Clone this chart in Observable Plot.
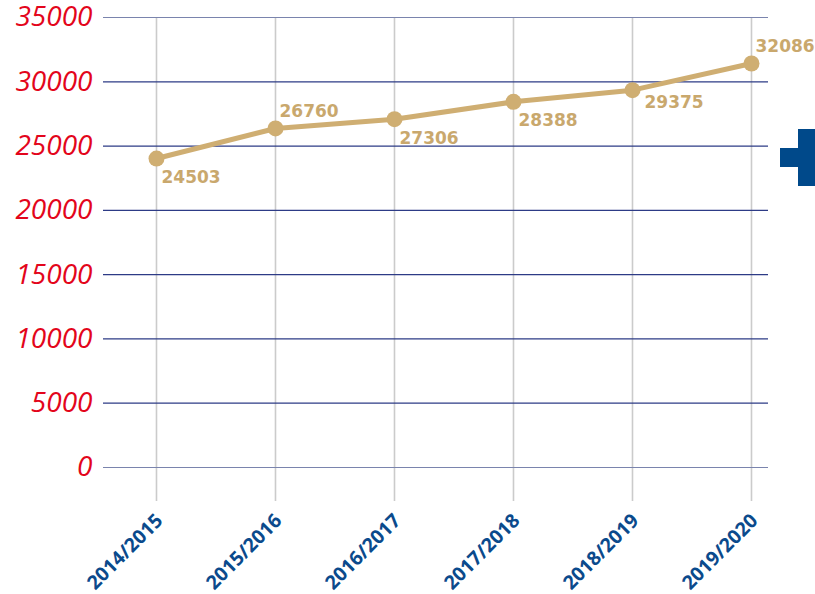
<!DOCTYPE html>
<html>
<head>
<meta charset="utf-8">
<script src="https://cdn.jsdelivr.net/npm/d3@7"></script>
<script src="https://cdn.jsdelivr.net/npm/@observablehq/plot@0.6"></script>
<style>
  html, body { margin: 0; padding: 0; background: #fff; width: 815px; height: 594px; overflow: hidden; }
  #wrap { position: relative; width: 815px; height: 594px; }
  #chart { position: absolute; left: 0; top: 0; }
  .deco { position: absolute; background: #00498a; }
</style>
</head>
<body>
<div id="wrap">
  <div id="chart"></div>
  <div class="deco" style="left:798px;top:129px;width:17px;height:57px"></div>
  <div class="deco" style="left:780px;top:148px;width:35px;height:19px"></div>
</div>
<script>
// Data
const seasons = ["2014/2015", "2015/2016", "2016/2017", "2017/2018", "2018/2019", "2019/2020"];
const values = [24030, 26370, 27090, 28440, 29350, 31420];
const labels = ["24503", "26760", "27306", "28388", "29375", "32086"];
const labelPlacement = ["below", "above", "below", "below", "right", "above"];
const yTicks = [0, 5000, 10000, 15000, 20000, 25000, 30000, 35000];

const data = seasons.map((s, i) => ({season: s, value: values[i], label: labels[i], place: labelPlacement[i]}));

const tan = "#cfae72";
const tanText = "#c9a86d";
const navy = "#0b4a8c";
const red = "#e3051b";

const chart = Plot.plot({
  width: 815,
  height: 594,
  marginLeft: 103,
  marginRight: 47,
  marginTop: 17,
  marginBottom: 127,
  style: {background: "transparent", fontFamily: "'Open Sans', sans-serif"},
  x: {type: "point", domain: seasons, range: [155, 751], padding: 0, label: null},
  y: {domain: [0, 35000], label: null},
  marks: [
    Plot.ruleX(seasons, {x: d => d, y1: 35000, y2: -2650, stroke: "#cbcbcb", strokeWidth: 1.6}),
    Plot.ruleY(yTicks, {y: d => d, stroke: d => (d === 0 || d === 35000) ? "#7a84ad" : "#2d3b86", strokeWidth: 1.2}),
    Plot.axisY(yTicks, {tickSize: 0, tickPadding: 11, tickFormat: d => String(d), fill: red, fontSize: 28, fontStyle: "italic", fontFamily: "'Open Sans', sans-serif"}),
    Plot.axisX(seasons, {tickSize: 0, tickPadding: 50, tickRotate: -45, fill: navy, fontSize: 19.5, fontWeight: "bold", fontFamily: "'Open Sans', sans-serif", dx: 3}),
    Plot.line(data, {x: "season", y: "value", stroke: tan, strokeWidth: 5}),
    Plot.dot(data, {x: "season", y: "value", r: 8, fill: tan}),
    Plot.text(data.filter(d => d.place === "below"), {x: "season", y: "value", text: "label", textAnchor: "start", dx: 5, dy: 19, fill: tanText, fontSize: 17, fontWeight: "bold", fontFamily: "'DejaVu Sans', sans-serif"}),
    Plot.text(data.filter(d => d.place === "above"), {x: "season", y: "value", text: "label", textAnchor: "start", dx: 4, dy: -17, fill: tanText, fontSize: 17, fontWeight: "bold", fontFamily: "'DejaVu Sans', sans-serif"}),
    Plot.text(data.filter(d => d.place === "right"), {x: "season", y: "value", text: "label", textAnchor: "start", dx: 12, dy: 12, fill: tanText, fontSize: 17, fontWeight: "bold", fontFamily: "'DejaVu Sans', sans-serif"})
  ]
});
document.getElementById("chart").appendChild(chart);
</script>
</body>
</html>
